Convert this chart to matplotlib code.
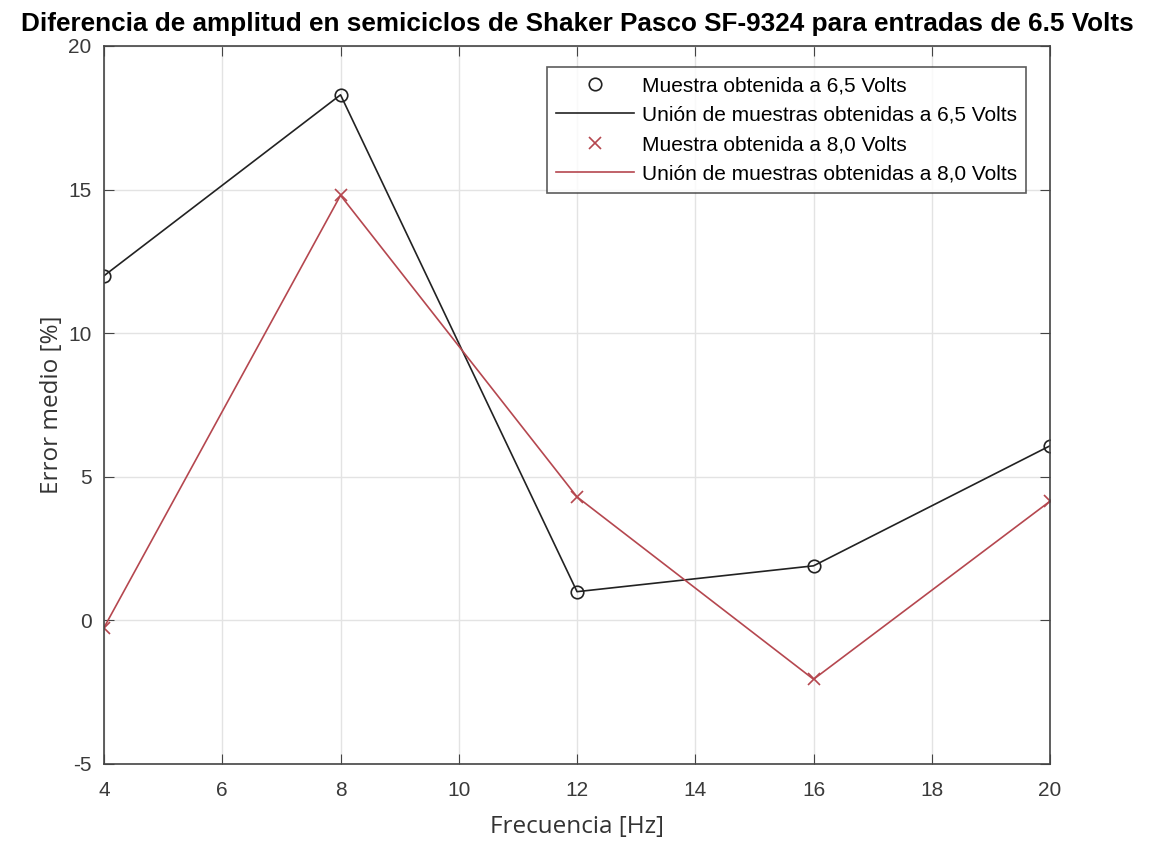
import numpy as np
import matplotlib.pyplot as plt

plt.rcParams['axes.unicode_minus'] = False

# frecuencias y errores medidos
freq = [4, 8, 12, 16, 20]
err_65 = [12.0, 18.3, 1.0, 1.9, 6.08]
err_80 = [-0.25, 14.8, 4.3, -2.05, 4.15]

red = '#b5474f'

fig = plt.figure(figsize=(11.52, 8.44), dpi=100)
ax = fig.add_axes([0.0903, 0.0948, 0.8212, 0.8507])

ax.plot(freq, err_65, 'o', color='#222222', mfc='none', ms=9, mew=1.2,
        label='Muestra obtenida a 6,5 Volts')
ax.plot(freq, err_65, '-', color='#222222', lw=1.2,
        label='Unión de muestras obtenidas a 6,5 Volts')
ax.plot(freq, err_80, 'x', color=red, ms=9, mew=1.2,
        label='Muestra obtenida a 8,0 Volts')
ax.plot(freq, err_80, '-', color=red, lw=1.2,
        label='Unión de muestras obtenidas a 8,0 Volts')

ax.set_xlim(4, 20)
ax.set_ylim(-5, 20)
ax.set_xticks(np.arange(4, 21, 2))
ax.set_yticks(np.arange(-5, 21, 5))
ax.grid(True, color='#e3e3e3', lw=1)
ax.set_axisbelow(True)
ax.tick_params(direction='in', top=True, right=True, length=7,
               labelsize=15, colors='#444444', labelcolor='#3a3a3a')
ax.tick_params(axis='x', pad=12)
ax.tick_params(axis='y', pad=9)
for lbl in ax.get_xticklabels() + ax.get_yticklabels():
    lbl.set_family('Liberation Sans')
for s in ax.spines.values():
    s.set_color('#444444')
    s.set_linewidth(1.2)

ax.set_xlabel('Frecuencia [Hz]', fontsize=17.5, color='#333333',
              family='Open Sans', labelpad=11)
ax.set_ylabel('Error medio [%]', fontsize=17.5, color='#333333',
              family='Open Sans', labelpad=3)
ax.set_title('Diferencia de amplitud en semiciclos de Shaker Pasco SF-9324 para entradas de 6.5 Volts',
             fontsize=18.8, fontweight='bold', pad=11, family='Liberation Sans')

leg = ax.legend(loc='upper right', bbox_to_anchor=(0.975, 0.971),
                prop={'family': 'Liberation Sans', 'size': 15},
                frameon=True, fancybox=False, edgecolor='#333333',
                handlelength=3.7, handletextpad=0.4, borderpad=0.45,
                labelspacing=0.5, borderaxespad=0)
leg.get_frame().set_linewidth(1.2)

fig.savefig('out.png', dpi=100)
